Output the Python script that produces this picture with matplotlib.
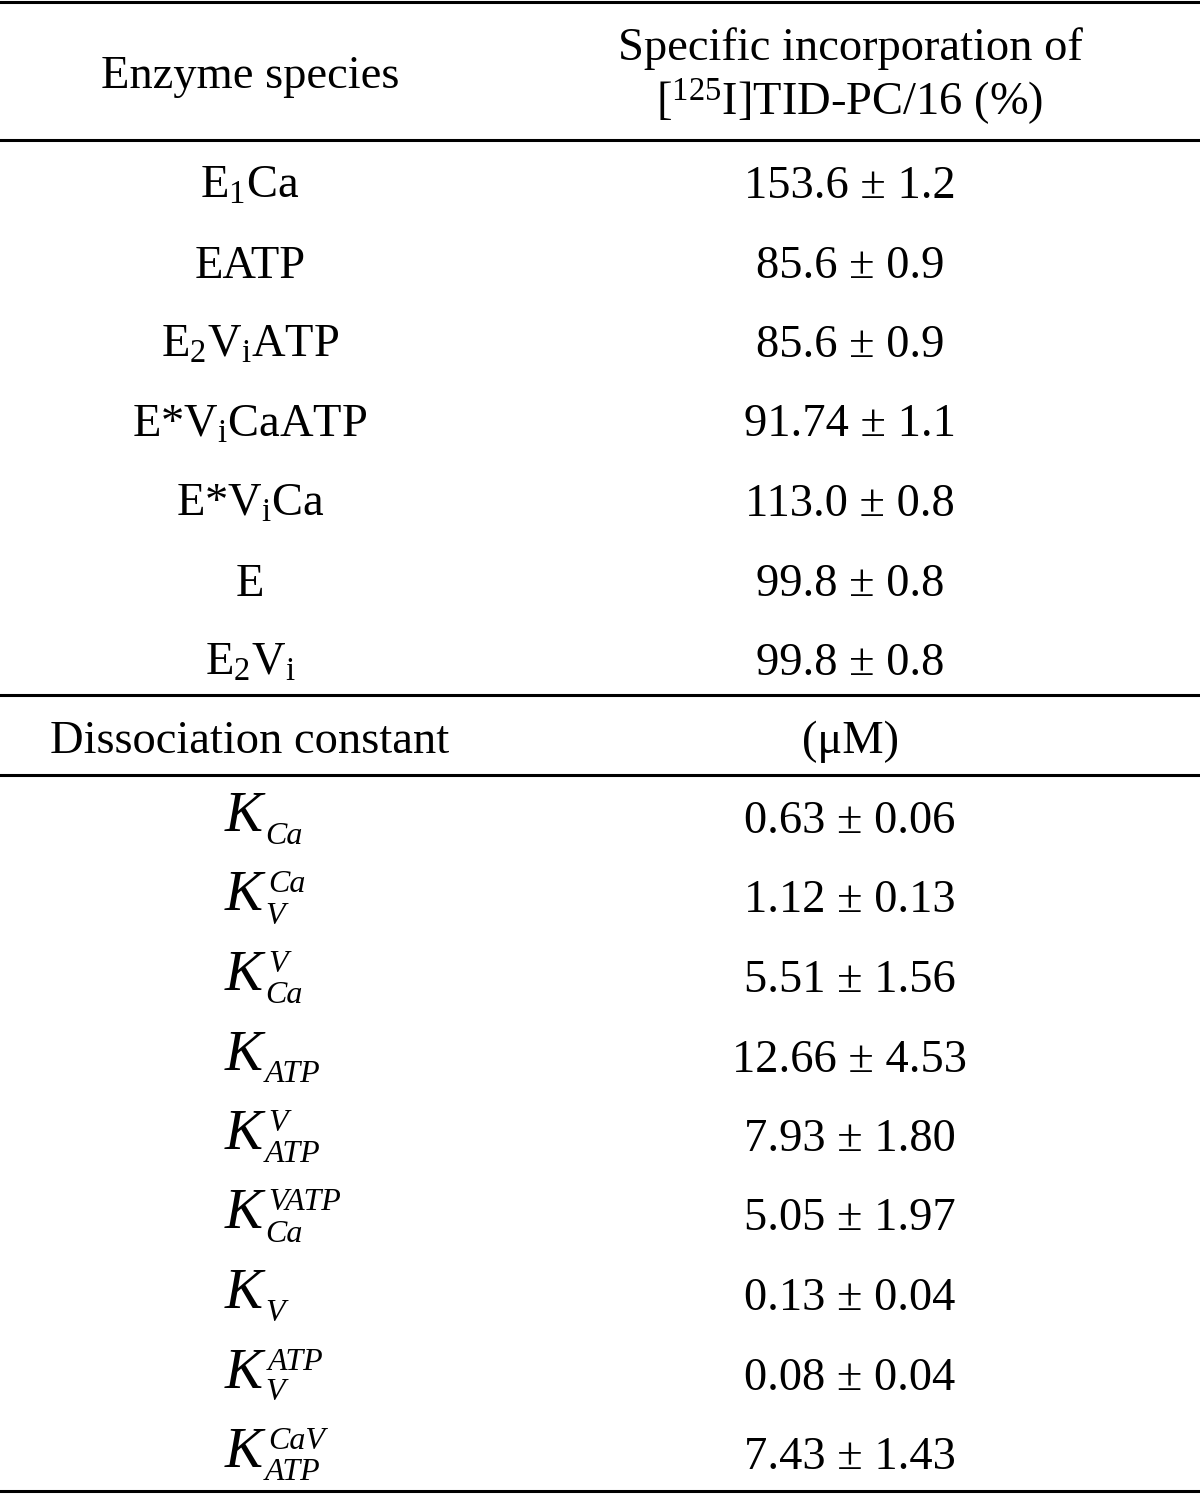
import matplotlib
matplotlib.use("Agg")
import matplotlib.pyplot as plt

plt.rcParams['font.family'] = ['Liberation Serif', 'DejaVu Serif']
plt.rcParams['mathtext.fontset'] = 'custom'
plt.rcParams['mathtext.rm'] = 'Liberation Serif'
plt.rcParams['mathtext.it'] = 'Liberation Serif:italic'
plt.rcParams['mathtext.bf'] = 'Liberation Serif:bold'

# table content
header_left = "Enzyme species"
header_right = ["Specific incorporation of", r"[$^{\mathrm{125}}$I]TID-PC/16 (%)"]
species = [r"E$_\mathrm{1}$Ca", "EATP", r"E$_\mathrm{2}$V$_\mathrm{i}$ATP",
           r"E*V$_\mathrm{i}$CaATP", r"E*V$_\mathrm{i}$Ca", "E",
           r"E$_\mathrm{2}$V$_\mathrm{i}$"]
incorporation = ["153.6 ± 1.2", "85.6 ± 0.9", "85.6 ± 0.9", "91.74 ± 1.1",
                 "113.0 ± 0.8", "99.8 ± 0.8", "99.8 ± 0.8"]
header2_left = "Dissociation constant"
header2_right = "(μM)"
# dissociation constants K with (subscript, superscript)
const_sub = ["Ca", "V", "Ca", "ATP", "ATP", "Ca", "V", "V", "ATP"]
const_sup = ["", "Ca", "V", "", "V", "VATP", "", "ATP", "CaV"]
const_values = ["0.63 ± 0.06", "1.12 ± 0.13", "5.51 ± 1.56", "12.66 ± 4.53",
                "7.93 ± 1.80", "5.05 ± 1.97", "0.13 ± 0.04", "0.08 ± 0.04",
                "7.43 ± 1.43"]

W, H = 1200, 1495
fig = plt.figure(figsize=(W / 100, H / 100), dpi=100)
ax = fig.add_axes([0, 0, 1, 1])
ax.set_xlim(0, W)
ax.set_ylim(H, 0)
ax.axis('off')

fs = 33.5
xl, xr = 250, 850
row_h = 79.5
lw = 2.2
base = 15  # baseline below row centre

# rules
for y in [2, 140, 695, 775, 1491]:
    ax.axhline(y, color='black', lw=lw)

# header
ax.text(xl, 88, header_left, ha='center', va='baseline', fontsize=fs)
ax.text(xr, 60, header_right[0], ha='center', va='baseline', fontsize=fs)
ax.text(xr, 115, header_right[1], ha='center', va='baseline', fontsize=fs)

# species block
y0 = 183
for i, (s, v) in enumerate(zip(species, incorporation)):
    y = y0 + i * row_h
    ax.text(xl, y + base, s, ha='center', va='baseline', fontsize=fs)
    ax.text(xr, y + base, v, ha='center', va='baseline', fontsize=fs)

# second header
ax.text(xl, 753, header2_left, ha='center', va='baseline', fontsize=fs)
ax.text(xr, 753, header2_right, ha='center', va='baseline', fontsize=fs)

# constants block
renderer = fig.canvas.get_renderer()
y1 = 818
for i, (sb, sp, v) in enumerate(zip(const_sub, const_sup, const_values)):
    y = y1 + i * row_h
    kb = y + 13
    k = ax.text(225, kb, "K", ha='left', va='baseline', fontsize=41,
                style='italic')
    x1 = k.get_window_extent(renderer).x1
    ax.text(x1 + 2, kb + 13, sb, ha='left', va='baseline', fontsize=23,
            style='italic')
    if sp:
        ax.text(x1 + 5, kb - 18, sp, ha='left', va='baseline', fontsize=23,
                style='italic')
    ax.text(xr, y + base, v, ha='center', va='baseline', fontsize=fs)

fig.savefig("out.png", dpi=100)
